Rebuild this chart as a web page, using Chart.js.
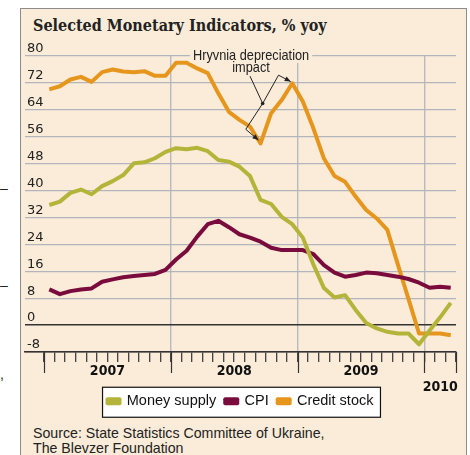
<!DOCTYPE html>
<html><head><meta charset="utf-8">
<script src="https://cdn.jsdelivr.net/npm/chart.js@4.4.1/dist/chart.umd.min.js"></script>
<style>
html,body{margin:0;padding:0;background:#fff;width:470px;height:455px;overflow:hidden;position:relative;}
#panel{position:absolute;left:20px;top:8px;width:447px;height:460px;background:#FAECD8;border:1px solid #8c8c8c;border-bottom:none;box-sizing:border-box;}
#title{position:absolute;left:33px;top:17px;font-family:'DejaVu Serif Condensed','DejaVu Serif',serif;font-weight:bold;font-size:16px;line-height:18px;color:#222;white-space:nowrap;}
#source{position:absolute;left:33px;top:425px;font-family:'Liberation Sans',Arial,sans-serif;font-size:15px;line-height:15px;color:#222;white-space:nowrap;transform:scaleX(0.945);transform-origin:0 0;}
.stray{position:absolute;left:0px;font-family:'Liberation Sans',sans-serif;font-size:14px;color:#222;line-height:14px;}
canvas{position:absolute;left:0;top:0;}
</style></head>
<body>
<div id="panel"></div>
<div id="title">Selected Monetary Indicators, % yoy</div>
<div id="source">Source: State Statistics Committee of Ukraine,<br>The Blevzer Foundation</div>
<div class="stray" style="top:181px">–</div>
<div class="stray" style="top:278px">–</div>
<div class="stray" style="top:367px">,</div>
<canvas id="c" width="470" height="455"></canvas>
<script>
const months = ['Jan 2007','Feb 2007','Mar 2007','Apr 2007','May 2007','Jun 2007','Jul 2007','Aug 2007','Sep 2007','Oct 2007','Nov 2007','Dec 2007',
  'Jan 2008','Feb 2008','Mar 2008','Apr 2008','May 2008','Jun 2008','Jul 2008','Aug 2008','Sep 2008','Oct 2008','Nov 2008','Dec 2008',
  'Jan 2009','Feb 2009','Mar 2009','Apr 2009','May 2009','Jun 2009','Jul 2009','Aug 2009','Sep 2009','Oct 2009','Nov 2009','Dec 2009',
  'Jan 2010','Feb 2010','Mar 2010'];
const moneySupply = [35.7,36.7,39.3,40.3,38.9,41.3,42.8,44.6,48.1,48.4,49.6,51.5,
  52.6,52.3,52.7,51.7,49.1,48.6,47.1,44.3,37.2,36.0,32.2,30.0,
  26.0,18.0,11.0,8.2,8.9,4.5,0.6,-1.0,-2.0,-2.5,-2.5,-5.7,
  -1.6,2.3,6.6];
const cpi = [10.6,9.2,10.1,10.6,10.9,12.9,13.6,14.2,14.6,14.9,15.2,16.4,
  19.5,22.1,26.3,30.0,31.0,29.1,27.0,26.0,24.8,23.0,22.3,22.3,
  22.3,21.1,17.8,15.6,14.4,14.9,15.6,15.4,14.9,14.4,13.7,12.6,
  11.1,11.4,11.1];
const creditStock = [70.1,71.0,73.0,73.8,72.3,75.2,76.0,75.4,75.2,75.5,74.1,74.1,
  78.0,78.0,76.3,74.9,68.9,63.4,61.0,59.0,54.0,63.0,66.9,71.9,
  66.5,58.5,49.5,44.3,42.6,38.2,34.2,31.7,28.3,18.0,7.8,-2.5,
  -2.5,-2.5,-3.0];
const yTickValues = [-8,0,8,16,24,32,40,48,56,64,72,80];
const years = ['2007','2008','2009','2010'];
const yearFirstMonth = [0,12,24,36];
const seriesNames = ['Money supply','CPI','Credit stock'];

const COLORS = ['#B4B43A','#7A0B3D','#E6961C'];
const SANS = "'Liberation Sans',Arial,sans-serif";
const GRID = '#B3B5BD';
const BG = '#FAECD8';

// derived axis helpers
const boundaries = [];
for (let k = 0; k <= months.length; k++) boundaries.push(k - 0.5);
const yearBounds = yearFirstMonth.map(m => m - 0.5).concat([months.length - 0.5]);
const yearCenters = yearFirstMonth.map((m, i) => {
  const last = i + 1 < yearFirstMonth.length ? yearFirstMonth[i + 1] - 1 : months.length - 1;
  return (m + last) / 2;
});
const xTickValues = Array.from(new Set(boundaries.concat(yearCenters))).sort((a, b) => a - b);
const near = (a, b) => Math.abs(a - b) < 1e-6;
const isInnerYearBound = v => yearFirstMonth.slice(1).some(m => near(m - 0.5, v));
const isBoundary = v => boundaries.some(b => near(b, v));

const toPoints = arr => arr.map((v, i) => ({x: i, y: v}));

// annotation placement (in axis units)
const annotation = {
  lines: ['Hryvnia depreciation', 'impact'],
  textX: 19.1, textY: [80.0, 76.4],
  start: [19.0, 74.0], fork: [20.2, 65.9],
  left: [[18.6, 58.2], [19.8, 55.0]],
  right: [[21.7, 74.3], [22.85, 72.4]]
};

const legendShiftPlugin = {
  id: 'legendShift',
  afterLayout(chart) {
    const lg = chart.legend;
    if (!lg) return;
    lg.top -= 12; lg.bottom -= 12;
  }
};

const legendBoxPlugin = {
  id: 'legendBox',
  beforeDraw(chart) {
    const lg = chart.legend;
    if (!lg || !lg.legendHitBoxes || !lg.legendHitBoxes.length) return;
    const hb = lg.legendHitBoxes;
    const l = Math.min(...hb.map(h => h.left)) - 5;
    const r = Math.max(...hb.map(h => h.left + h.width)) + 7;
    const cy = hb[0].top + hb[0].height / 2;
    const ctx = chart.ctx;
    ctx.save();
    ctx.fillStyle = '#ffffff';
    ctx.strokeStyle = '#111';
    ctx.lineWidth = 1.2;
    ctx.fillRect(l, cy - 14, r - l, 30);
    ctx.strokeRect(l, cy - 14, r - l, 30);
    ctx.restore();
  }
};

const yearTickPlugin = {
  id: 'yearTicks',
  afterDraw(chart) {
    const xs = chart.scales.x, ctx = chart.ctx;
    const bottom = chart.chartArea.bottom;
    ctx.save();
    ctx.strokeStyle = '#333';
    ctx.lineWidth = 1.2;
    yearBounds.forEach(v => {
      const px = Math.round(xs.getPixelForValue(v)) + 0.5;
      ctx.beginPath(); ctx.moveTo(px, bottom); ctx.lineTo(px, bottom + 21); ctx.stroke();
    });
    ctx.restore();
  }
};

function arrowHead(ctx, from, to) {
  const ang = Math.atan2(to[1] - from[1], to[0] - from[0]);
  const len = 6, w = 2.6;
  ctx.beginPath();
  ctx.moveTo(to[0], to[1]);
  ctx.lineTo(to[0] - len * Math.cos(ang) + w * Math.sin(ang), to[1] - len * Math.sin(ang) - w * Math.cos(ang));
  ctx.lineTo(to[0] - len * Math.cos(ang) - w * Math.sin(ang), to[1] - len * Math.sin(ang) + w * Math.cos(ang));
  ctx.closePath(); ctx.fill();
}

const annotationPlugin = {
  id: 'annot',
  afterDatasetsDraw(chart) {
    const xs = chart.scales.x, ys = chart.scales.y, ctx = chart.ctx;
    const P = p => [xs.getPixelForValue(p[0]), ys.getPixelForValue(p[1])];
    const squeeze = 0.85;
    ctx.save();
    ctx.font = '15px ' + SANS;
    ctx.textAlign = 'center';
    ctx.textBaseline = 'middle';
    annotation.lines.forEach((t, i) => {
      const cx = xs.getPixelForValue(annotation.textX), cy = ys.getPixelForValue(annotation.textY[i]);
      const w = ctx.measureText(t).width * squeeze;
      if (i === 0) { ctx.fillStyle = BG; ctx.fillRect(cx - w / 2 - 3, cy - 7, w + 6, 14); }
      ctx.fillStyle = '#222';
      ctx.save();
      ctx.translate(cx, cy); ctx.scale(squeeze, 1);
      ctx.fillText(t, 0, 0);
      ctx.restore();
    });
    ctx.strokeStyle = '#222'; ctx.fillStyle = '#222'; ctx.lineWidth = 1;
    const s = P(annotation.start), f = P(annotation.fork);
    const l1 = P(annotation.left[0]), l2 = P(annotation.left[1]);
    const r1 = P(annotation.right[0]), r2 = P(annotation.right[1]);
    ctx.beginPath(); ctx.moveTo(s[0], s[1]); ctx.lineTo(f[0], f[1]); ctx.lineTo(l1[0], l1[1]); ctx.lineTo(l2[0], l2[1]); ctx.stroke();
    ctx.beginPath(); ctx.moveTo(f[0], f[1]); ctx.lineTo(r1[0], r1[1]); ctx.lineTo(r2[0], r2[1]); ctx.stroke();
    arrowHead(ctx, l1, l2); arrowHead(ctx, r1, r2);
    ctx.beginPath(); ctx.arc(f[0], f[1], 1.8, 0, Math.PI * 2); ctx.fill();
    ctx.restore();
  }
};

const seriesValues = [moneySupply, cpi, creditStock];
new Chart(document.getElementById('c'), {
  type: 'line',
  data: {
    labels: months,
    datasets: seriesValues.map((vals, i) => ({
      label: seriesNames[i],
      data: toPoints(vals),
      borderColor: COLORS[i],
      backgroundColor: COLORS[i],
      borderWidth: 4,
      pointRadius: 0,
      tension: 0,
      borderJoinStyle: 'round',
      borderCapStyle: 'butt',
      fill: false
    }))
  },
  options: {
    responsive: false,
    animation: false,
    layout: {padding: {left: 25, right: 14, top: 56, bottom: 24.5}},
    plugins: {
      title: {display: false},
      tooltip: {enabled: false},
      legend: {
        display: true,
        position: 'bottom',
        labels: {
          boxWidth: 12, boxHeight: 4, padding: 9,
          color: '#111',
          font: {family: SANS, size: 14.5}
        }
      }
    },
    scales: {
      x: {
        type: 'linear',
        min: -2.3, max: months.length - 0.5,
        afterBuildTicks: scale => { scale.ticks = xTickValues.map(v => ({value: v})); },
        afterFit: scale => { scale.height = 45; },
        ticks: {
          autoSkip: false, maxRotation: 0, minRotation: 0, padding: 1,
          color: '#111',
          font: {family: "'DejaVu Sans Condensed','DejaVu Sans',sans-serif", size: 14, weight: 'bold', lineHeight: 1.15},
          callback: v => {
            const i = yearCenters.findIndex(c => near(c, v));
            if (i < 0) return '';
            return i === years.length - 1 ? ['', years[i]] : years[i];
          }
        },
        grid: {
          drawOnChartArea: true,
          tickLength: 10,
          lineWidth: 1.4,
          tickWidth: 1.2,
          color: ctx => (ctx.tick && isInnerYearBound(ctx.tick.value)) ? '#B9BAC0' : 'rgba(0,0,0,0)',
          tickColor: ctx => (ctx.tick && isBoundary(ctx.tick.value)) ? '#333' : 'rgba(0,0,0,0)'
        },
        border: {display: true, color: '#333', width: 1.4}
      },
      y: {
        min: -8, max: 80,
        afterBuildTicks: scale => { scale.ticks = yTickValues.map(v => ({value: v})); },
        afterFit: scale => { scale.width = 0; },
        ticks: {
          mirror: true, padding: 2, labelOffset: -7,
          color: '#222',
          font: {family: "'DejaVu Sans',sans-serif", size: 13}
        },
        grid: {
          drawTicks: false,
          lineWidth: ctx => (ctx.tick && ctx.tick.value === 0) ? 1.4 : 1.2,
          color: ctx => (ctx.tick && (ctx.tick.value === 0 || ctx.tick.value === -8)) ? '#333' : GRID
        },
        border: {display: false}
      }
    }
  },
  plugins: [legendShiftPlugin, legendBoxPlugin, yearTickPlugin, annotationPlugin]
});
</script>
</body></html>
